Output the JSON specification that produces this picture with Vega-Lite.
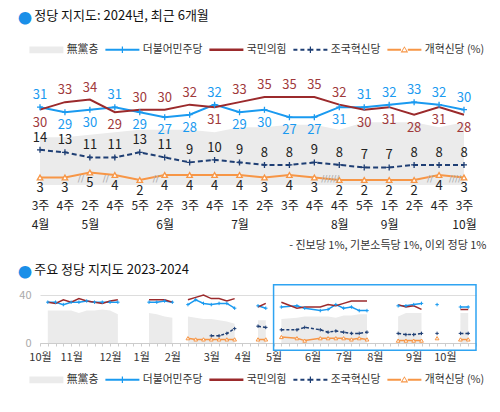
{
  "$schema": "https://vega.github.io/schema/vega-lite/v6.json",
  "padding": {"left": 18, "top": 10, "right": 5, "bottom": 5},
  "background": "white",
  "config": {
    "view": {"stroke": null},
    "font": "Noto Sans CJK KR",
    "text": {"font": "Noto Sans CJK KR"},
    "axis": {"labelFont": "Noto Sans CJK KR", "titleFont": "Noto Sans CJK KR"},
    "legend": {"labelFont": "Noto Sans CJK KR"},
    "title": {"font": "Noto Sans CJK KR", "subtitleFont": "Noto Sans CJK KR"}
  },
  "datasets": {
    "top": [
      {"period": "4월 3주", "nop": 19, "dem": 31, "ppp": 30, "cho": 14, "ref": 3},
      {"period": "4월 4주", "nop": 19, "dem": 29, "ppp": 33, "cho": 13, "ref": 3},
      {"period": "5월 2주", "nop": 20, "dem": 30, "ppp": 34, "cho": 11, "ref": 5, "brk": "//"},
      {"period": "5월 4주", "nop": 21, "dem": 31, "ppp": 29, "cho": 11, "ref": 4, "brk": "//"},
      {"period": "5월 5주", "nop": 22, "dem": 29, "ppp": 30, "cho": 13, "ref": 2},
      {"period": "6월 2주", "nop": 22, "dem": 27, "ppp": 30, "cho": 11, "ref": 4, "brk": "//"},
      {"period": "6월 3주", "nop": 22, "dem": 28, "ppp": 32, "cho": 9, "ref": 4},
      {"period": "6월 4주", "nop": 21, "dem": 32, "ppp": 31, "cho": 10, "ref": 4},
      {"period": "7월 1주", "nop": 23, "dem": 29, "ppp": 33, "cho": 9, "ref": 4},
      {"period": "7월 2주", "nop": 23, "dem": 30, "ppp": 35, "cho": 8, "ref": 3},
      {"period": "7월 3주", "nop": 24, "dem": 27, "ppp": 35, "cho": 8, "ref": 4},
      {"period": "7월 4주", "nop": 24, "dem": 27, "ppp": 35, "cho": 9, "ref": 3},
      {"period": "8월 4주", "nop": 22, "dem": 31, "ppp": 32, "cho": 8, "ref": 2, "brk": "//////"},
      {"period": "8월 5주", "nop": 25, "dem": 31, "ppp": 30, "cho": 7, "ref": 2},
      {"period": "9월 1주", "nop": 25, "dem": 32, "ppp": 31, "cho": 7, "ref": 2},
      {"period": "9월 2주", "nop": 25, "dem": 33, "ppp": 28, "cho": 8, "ref": 2},
      {"period": "9월 4주", "nop": 23, "dem": 32, "ppp": 31, "cho": 8, "ref": 4, "brk": "//"},
      {"period": "10월 3주", "nop": 25, "dem": 30, "ppp": 28, "cho": 8, "ref": 3, "brk": "////"}
    ],
    "bot": [
      {"wk": 1, "nop": 27, "dem": 34, "ppp": 34},
      {"wk": 2, "nop": 27, "dem": 34, "ppp": 33},
      {"wk": 3, "nop": 27, "dem": 32, "ppp": 36},
      {"wk": 4, "nop": 27, "dem": 34, "ppp": 34},
      {"wk": 5, "nop": 25, "dem": 34, "ppp": 37},
      {"wk": 6, "nop": 27, "dem": 35, "ppp": 35},
      {"wk": 7, "nop": 27, "dem": 34, "ppp": 34},
      {"wk": 8, "nop": 28, "dem": 34, "ppp": 33},
      {"wk": 9, "nop": 27, "dem": 34, "ppp": 35},
      {"wk": 10, "nop": 24, "dem": 34, "ppp": 36},
      {"wk": 11},
      {"wk": 14, "nop": 25, "dem": 34, "ppp": 36},
      {"wk": 15, "nop": 24, "dem": 34, "ppp": 36},
      {"wk": 16, "nop": 22, "dem": 35, "ppp": 36},
      {"wk": 17, "nop": 21, "dem": 34, "ppp": 34},
      {"wk": 18},
      {"wk": 19, "nop": 22, "dem": 32, "ppp": 36, "ref": 4},
      {"wk": 20, "nop": 21, "dem": 36, "ppp": 38, "ref": 3},
      {"wk": 21, "nop": 20, "dem": 33, "ppp": 40, "ref": 3},
      {"wk": 22, "nop": 20, "dem": 32, "ppp": 37, "cho": 6, "ref": 3},
      {"wk": 23, "nop": 19, "dem": 33, "ppp": 37, "cho": 6, "ref": 3},
      {"wk": 24, "nop": 18, "dem": 33, "ppp": 35, "cho": 8, "ref": 3},
      {"wk": 25, "nop": 16, "dem": 29, "ppp": 37, "cho": 12, "ref": 3},
      {"wk": 26},
      {"wk": 28, "nop": 19, "dem": 31, "ppp": 30, "cho": 14, "ref": 3},
      {"wk": 29, "nop": 19, "dem": 29, "ppp": 33, "cho": 13, "ref": 3},
      {"wk": 30},
      {"wk": 31, "nop": 20, "dem": 30, "ppp": 34, "cho": 11, "ref": 5},
      {"wk": 33, "nop": 21, "dem": 31, "ppp": 29, "cho": 11, "ref": 4},
      {"wk": 34, "nop": 22, "dem": 29, "ppp": 30, "cho": 13, "ref": 2},
      {"wk": 36, "nop": 22, "dem": 27, "ppp": 30, "cho": 11, "ref": 4},
      {"wk": 37, "nop": 22, "dem": 28, "ppp": 32, "cho": 9, "ref": 4},
      {"wk": 38, "nop": 21, "dem": 32, "ppp": 31, "cho": 10, "ref": 4},
      {"wk": 39, "nop": 23, "dem": 29, "ppp": 33, "cho": 9, "ref": 4},
      {"wk": 40, "nop": 23, "dem": 30, "ppp": 35, "cho": 8, "ref": 3},
      {"wk": 41, "nop": 24, "dem": 27, "ppp": 35, "cho": 8, "ref": 4},
      {"wk": 42, "nop": 24, "dem": 27, "ppp": 35, "cho": 9, "ref": 3},
      {"wk": 44},
      {"wk": 46, "nop": 22, "dem": 31, "ppp": 32, "cho": 8, "ref": 2},
      {"wk": 47, "nop": 25, "dem": 31, "ppp": 30, "cho": 7, "ref": 2},
      {"wk": 48, "nop": 25, "dem": 32, "ppp": 31, "cho": 7, "ref": 2},
      {"wk": 49, "nop": 25, "dem": 33, "ppp": 28, "cho": 8, "ref": 2},
      {"wk": 50},
      {"wk": 51, "nop": 23, "dem": 32, "ppp": 31, "cho": 8, "ref": 4},
      {"wk": 52},
      {"wk": 54, "nop": 25, "dem": 30, "ppp": 28, "cho": 8, "ref": 3},
      {"wk": 55, "nop": 25, "dem": 30, "ppp": 28, "cho": 8, "ref": 3}
    ],
    "parties": [
      {"party": "無黨층"},
      {"party": "더불어민주당"},
      {"party": "국민의힘"},
      {"party": "조국혁신당"},
      {"party": "개혁신당 (%)"}
    ],
    "hl": [{"start": 30, "end": 56}]
  },
  "columns": 1,
  "spacing": 14,
  "resolve": {
    "scale": {"x": "independent", "y": "independent", "color": "independent", "shape": "independent"},
    "axis": {"x": "independent", "y": "independent"},
    "legend": {"color": "independent", "shape": "independent"}
  },
  "concat": [
    {
      "width": 424,
      "height": 113,
      "title": {
        "text": "●",
        "subtitle": "\u200b\u3000\u2005정당 지지도: 2024년, 최근 6개월",
        "anchor": "start",
        "frame": "group",
        "dx": -22,
        "color": "#1a8fe8",
        "fontSize": 14,
        "fontWeight": "normal",
        "subtitleFontSize": 13,
        "subtitleColor": "#111111",
        "subtitlePadding": -16,
        "offset": 16
      },
      "layer": [
        {
          "data": {"name": "top"},
          "encoding": {
            "x": {
              "field": "period", "type": "ordinal", "title": null,
              "scale": {"type": "point", "padding": -0.346, "domain": ["4월 3주","4월 4주","5월 2주","5월 4주","5월 5주","6월 2주","6월 3주","6월 4주","7월 1주","7월 2주","7월 3주","7월 4주","8월 4주","8월 5주","9월 1주","9월 2주","9월 4주","10월 3주"]},
              "axis": {
                "title": "- 진보당 1%, 기본소득당 1%, 이외 정당 1%",
                "titleX": 446, "titleAlign": "right", "titleAnchor": "start",
                "titleFontSize": 11, "titleFontWeight": "normal",
                "titleColor": "#333333", "titlePadding": 9,
                "domain": false, "ticks": false, "labelAngle": 0, "labelPadding": 15,
                "labelFontSize": 12, "labelColor": "#222222", "labelLineHeight": 19,
                "labelOverlap": false, "labelBound": false,
                "labelExpr": "[split(datum.value, ' ')[1], indexof(['4월 3주','5월 2주','6월 2주','7월 1주','8월 4주','9월 1주','10월 3주'], datum.value) >= 0 ? split(datum.value, ' ')[0] : '']"
              }
            }
          },
          "layer": [
            {"mark": {"type": "area", "color": "#ebebeb"},
             "encoding": {"y": {"field": "nop", "type": "quantitative", "title": null, "scale": {"domain": [0, 42]}, "axis": null}}},
            {"mark": {"type": "line", "color": "#1a9af0", "strokeWidth": 2},
             "encoding": {"y": {"field": "dem", "type": "quantitative", "title": null, "axis": null}}},
            {"mark": {"type": "line", "color": "#9b2a2c", "strokeWidth": 2},
             "encoding": {"y": {"field": "ppp", "type": "quantitative", "title": null, "axis": null}}},
            {"mark": {"type": "line", "color": "#1f3f74", "strokeWidth": 2, "strokeDash": [5, 3]},
             "encoding": {"y": {"field": "cho", "type": "quantitative", "title": null, "axis": null}}},
            {"mark": {"type": "line", "color": "#f79646", "strokeWidth": 2},
             "encoding": {"y": {"field": "ref", "type": "quantitative", "title": null, "axis": null}}},
            {"mark": {"type": "point", "shape": "M-1,0H1M0,-1V1", "filled": false, "color": "#1a9af0", "size": 36, "strokeWidth": 1.3, "opacity": 1},
             "encoding": {"y": {"field": "dem", "type": "quantitative", "title": null, "axis": null}}},
            {"mark": {"type": "point", "shape": "M-1,0H1M0,-1V1", "filled": false, "color": "#1f3f74", "size": 36, "strokeWidth": 1.3, "opacity": 1},
             "encoding": {"y": {"field": "cho", "type": "quantitative", "title": null, "axis": null}}},
            {"mark": {"type": "point", "shape": "triangle-up", "filled": true, "fill": "white", "stroke": "#f79646", "strokeWidth": 1.3, "size": 30, "opacity": 1},
             "encoding": {"y": {"field": "ref", "type": "quantitative", "title": null, "axis": null}}},
            {"transform": [{"filter": "datum.dem > datum.ppp"}],
             "mark": {"type": "text", "dy": -12, "color": "#1a9af0", "fontSize": 13},
             "encoding": {"y": {"field": "dem", "type": "quantitative", "title": null, "axis": null}, "text": {"field": "dem"}}},
            {"transform": [{"filter": "datum.dem <= datum.ppp"}],
             "mark": {"type": "text", "dy": 13, "color": "#1a9af0", "fontSize": 13},
             "encoding": {"y": {"field": "dem", "type": "quantitative", "title": null, "axis": null}, "text": {"field": "dem"}}},
            {"transform": [{"filter": "datum.ppp >= datum.dem"}],
             "mark": {"type": "text", "dy": -12, "color": "#a0393b", "fontSize": 13},
             "encoding": {"y": {"field": "ppp", "type": "quantitative", "title": null, "axis": null}, "text": {"field": "ppp"}}},
            {"transform": [{"filter": "datum.ppp < datum.dem"}],
             "mark": {"type": "text", "dy": 13, "color": "#a0393b", "fontSize": 13},
             "encoding": {"y": {"field": "ppp", "type": "quantitative", "title": null, "axis": null}, "text": {"field": "ppp"}}},
            {"mark": {"type": "text", "dy": -12, "color": "#222222", "fontSize": 13},
             "encoding": {"y": {"field": "cho", "type": "quantitative", "title": null, "axis": null}, "text": {"field": "cho"}}},
            {"mark": {"type": "text", "dy": 11, "color": "#222222", "fontSize": 13},
             "encoding": {"y": {"field": "ref", "type": "quantitative", "title": null, "axis": null}, "text": {"field": "ref"}}},
            {"transform": [{"filter": "datum.brk"}],
             "mark": {"type": "text", "dx": -9, "dy": -1, "baseline": "bottom", "color": "#aaaaaa", "fontSize": 9, "font": "DejaVu Sans"},
             "encoding": {"y": {"datum": 0}, "text": {"field": "brk"}}}
          ]
        },
        {"data": {"name": "parties"},
         "transform": [{"filter": "datum.party == null"}],
         "mark": {"type": "point", "filled": true},
         "encoding": {
           "color": {"field": "party", "type": "nominal",
             "scale": {"domain": ["無黨층", "더불어민주당", "국민의힘", "조국혁신당", "개혁신당 (%)"], "range": ["#ebebeb", "#1a9af0", "#9b2a2c", "#1f3f74", "#f79646"]},
             "legend": {"orient": "none", "legendX": -12, "legendY": -28, "direction": "horizontal", "title": null, "symbolSize": 64, "symbolStrokeWidth": 0, "symbolOpacity": 1, "labelFontSize": 10.8, "labelColor": "#333333", "labelOffset": 28, "columnPadding": 5, "padding": 0, "labelLimit": 200}},
           "shape": {"field": "party", "type": "nominal",
             "scale": {"domain": ["無黨층", "더불어민주당", "국민의힘", "조국혁신당", "개혁신당 (%)"], "range": [
               "M-1,-0.85H7.5V0.85H-1Z",
               "M-1,-0.25H7.5V0.25H-1Z M3.1,-0.8H3.4V0.8H3.1Z",
               "M-1,-0.3H7.5V0.3H-1Z",
               "M-1,-0.25H0V0.25H-1Z M0.75,-0.25H1.75V0.25H0.75Z M2.5,-0.25H4V0.25H2.5Z M4.75,-0.25H5.75V0.25H4.75Z M6.5,-0.25H7.5V0.25H6.5Z M3.1,-0.8H3.4V0.8H3.1Z",
               "M-1,-0.25H2.4V0.25H-1Z M4.1,-0.25H7.5V0.25H4.1Z M3.25,-0.9L4.2,0.65L2.3,0.65Z M3.25,-0.5L2.75,0.38L3.75,0.38Z"
             ]},
             "legend": {"orient": "none", "legendX": -12, "legendY": -28, "direction": "horizontal", "title": null, "symbolSize": 64, "symbolStrokeWidth": 0, "symbolOpacity": 1, "labelFontSize": 10.8, "labelColor": "#333333", "labelOffset": 28, "columnPadding": 5, "padding": 0, "labelLimit": 200}}
         }}
      ]
    },
    {
      "width": 436,
      "height": 48,
      "title": {
        "text": "●",
        "subtitle": "\u200b\u3000\u2005주요 정당 지지도 2023-2024",
        "anchor": "start",
        "frame": "group",
        "dx": -22,
        "color": "#1a8fe8",
        "fontSize": 14,
        "fontWeight": "normal",
        "subtitleFontSize": 13,
        "subtitleColor": "#111111",
        "subtitlePadding": -16,
        "offset": 2
      },
      "layer": [
        {
          "data": {"name": "bot"},
          "encoding": {
            "x": {
              "field": "wk", "type": "quantitative", "title": null,
              "scale": {"domain": [0, 56], "nice": false, "zero": false},
              "axis": {
                "title": null, "grid": false,
                "values": [0,1,2,3,4,5,6,7,8,9,10,11,12,13,14,15,16,17,18,19,20,21,22,23,24,25,26,27,28,29,30,31,32,33,34,35,36,37,38,39,40,41,42,43,44,45,46,47,48,49,50,51,52,53,54,55,56],
                "tickColor": "#cccccc", "tickSize": 3, "domainColor": "#cccccc",
                "labelFontSize": 11, "labelColor": "#333333", "labelPadding": 5,
                "labelFlush": false, "labelOverlap": false, "labelBound": false,
                "labelExpr": "indexof([0,4,9,13,17,22,26,30,35,39,43,48,52], datum.value) >= 0 ? ['10월','11월','12월','1월','2월','3월','4월','5월','6월','7월','8월','9월','10월'][indexof([0,4,9,13,17,22,26,30,35,39,43,48,52], datum.value)] : ''"
              }
            }
          },
          "layer": [
            {"mark": {"type": "area", "color": "#ebebeb"},
             "encoding": {"y": {"field": "nop", "type": "quantitative", "title": null, "scale": {"domain": [0, 40], "nice": false},
               "axis": {"title": null, "values": [0, 20, 40], "grid": true, "gridColor": "#dddddd", "domain": false, "ticks": false, "labelColor": "#aaaaaa", "labelFontSize": 11, "labelPadding": 9}}}},
            {"mark": {"type": "line", "color": "#1a9af0", "strokeWidth": 1.5},
             "encoding": {"y": {"field": "dem", "type": "quantitative", "title": null}}},
            {"mark": {"type": "line", "color": "#9b2a2c", "strokeWidth": 1.5},
             "encoding": {"y": {"field": "ppp", "type": "quantitative", "title": null}}},
            {"mark": {"type": "line", "color": "#1f3f74", "strokeWidth": 1.5, "strokeDash": [3, 2]},
             "encoding": {"y": {"field": "cho", "type": "quantitative", "title": null}}},
            {"mark": {"type": "line", "color": "#f79646", "strokeWidth": 1.5},
             "encoding": {"y": {"field": "ref", "type": "quantitative", "title": null}}},
            {"mark": {"type": "point", "shape": "M-1,0H1M0,-1V1", "filled": false, "color": "#1a9af0", "size": 12, "strokeWidth": 1, "opacity": 1},
             "encoding": {"y": {"field": "dem", "type": "quantitative", "title": null}}},
            {"mark": {"type": "point", "shape": "M-1,0H1M0,-1V1", "filled": false, "color": "#1f3f74", "size": 12, "strokeWidth": 1, "opacity": 1},
             "encoding": {"y": {"field": "cho", "type": "quantitative", "title": null}}},
            {"mark": {"type": "point", "shape": "triangle-up", "filled": true, "fill": "white", "stroke": "#f79646", "strokeWidth": 1, "size": 14, "opacity": 1},
             "encoding": {"y": {"field": "ref", "type": "quantitative", "title": null}}},
            {"data": {"name": "hl"},
             "mark": {"type": "rect", "fill": null, "fillOpacity": 0, "stroke": "#2fa4f2", "strokeWidth": 1.5},
             "encoding": {"x": {"field": "start", "type": "quantitative", "title": null}, "x2": {"field": "end"}, "y": {"datum": 48.5}, "y2": {"datum": -6}}}
          ]
        },
        {"data": {"name": "parties"},
         "transform": [{"filter": "datum.party == null"}],
         "mark": {"type": "point", "filled": true},
         "encoding": {
           "color": {"field": "party", "type": "nominal",
             "scale": {"domain": ["無黨층", "더불어민주당", "국민의힘", "조국혁신당", "개혁신당 (%)"], "range": ["#ebebeb", "#1a9af0", "#9b2a2c", "#1f3f74", "#f79646"]},
             "legend": {"orient": "none", "legendX": -12, "legendY": 79, "direction": "horizontal", "title": null, "symbolSize": 64, "symbolStrokeWidth": 0, "symbolOpacity": 1, "labelFontSize": 10.8, "labelColor": "#333333", "labelOffset": 28, "columnPadding": 5, "padding": 0, "labelLimit": 200}},
           "shape": {"field": "party", "type": "nominal",
             "scale": {"domain": ["無黨층", "더불어민주당", "국민의힘", "조국혁신당", "개혁신당 (%)"], "range": [
               "M-1,-0.85H7.5V0.85H-1Z",
               "M-1,-0.25H7.5V0.25H-1Z M3.1,-0.8H3.4V0.8H3.1Z",
               "M-1,-0.3H7.5V0.3H-1Z",
               "M-1,-0.25H0V0.25H-1Z M0.75,-0.25H1.75V0.25H0.75Z M2.5,-0.25H4V0.25H2.5Z M4.75,-0.25H5.75V0.25H4.75Z M6.5,-0.25H7.5V0.25H6.5Z M3.1,-0.8H3.4V0.8H3.1Z",
               "M-1,-0.25H2.4V0.25H-1Z M4.1,-0.25H7.5V0.25H4.1Z M3.25,-0.9L4.2,0.65L2.3,0.65Z M3.25,-0.5L2.75,0.38L3.75,0.38Z"
             ]},
             "legend": {"orient": "none", "legendX": -12, "legendY": 79, "direction": "horizontal", "title": null, "symbolSize": 64, "symbolStrokeWidth": 0, "symbolOpacity": 1, "labelFontSize": 10.8, "labelColor": "#333333", "labelOffset": 28, "columnPadding": 5, "padding": 0, "labelLimit": 200}}
         }}
      ]
    }
  ]
}
